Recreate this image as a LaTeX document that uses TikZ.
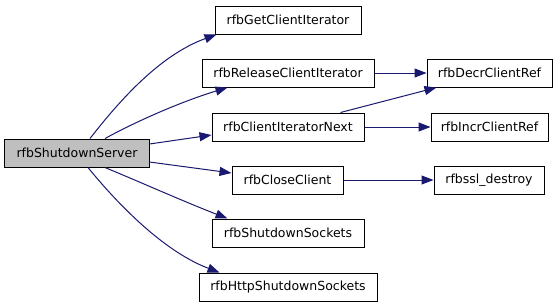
\documentclass[tikz,border=0pt]{standalone}
\usepackage{fontspec}
\setmainfont{DejaVu Sans}
\usetikzlibrary{arrows.meta,calc}
\definecolor{edgeblue}{HTML}{191970}
\definecolor{rootgray}{HTML}{BFBFBF}
\tikzset{
  fn/.style={draw=black, line width=1bp, fill=white, inner sep=0pt,
    minimum height=28bp, font=\fontsize{12.5bp}{14bp}\selectfont},
  rootfn/.style={fn, fill=rootgray},
  call/.style={draw=edgeblue, line width=1bp,
    -{Triangle[length=12bp,width=9bp]}, color=edgeblue},
}
\begin{document}
\begin{tikzpicture}[x=1bp,y=-1bp]
  \useasboundingbox (0,0) rectangle (557,307);

  % functions
  \node[rootfn, minimum width=144bp] (server)  at (77,153)   {rfbShutdownServer};
  \node[fn, minimum width=146bp] (get)     at (288,20)    {rfbGetClientIterator};
  \node[fn, minimum width=172bp] (release) at (288,73)    {rfbReleaseClientIterator};
  \node[fn, minimum width=152bp] (next)    at (288,127)   {rfbClientIteratorNext};
  \node[fn, minimum width=111bp] (close)   at (287.5,180) {rfbCloseClient};
  \node[fn, minimum width=152bp] (sockets) at (288,233)   {rfbShutdownSockets};
  \node[fn, minimum width=178bp] (http)    at (288,287)   {rfbHttpShutdownSockets};
  \node[fn, minimum width=125bp] (decr)    at (489.5,73)  {rfbDecrClientRef};
  \node[fn, minimum width=117bp] (incr)    at (489.5,127) {rfbIncrClientRef};
  \node[fn, minimum width=110bp] (ssl)     at (489,180)   {rfbssl\_destroy};

  % calls from rfbShutdownServer
  \draw[call] ($(server.north)+(13,0)$) .. controls (120,100) and (160,55) .. ($(get.south west)+(2,0)$);
  \draw[call] ($(server.north)+(28,0)$) .. controls (135,122) and (180,102) .. ($(release.south west)+(26,0)$);
  \draw[call] ($(server.east)+(0,-9)$) -- ($(next.west)+(0,8)$);
  \draw[call] ($(server.east)+(0,9)$) -- ($(close.west)+(0,-7)$);
  \draw[call] ($(server.south)+(28,0)$) .. controls (140,182) and (185,202) .. ($(sockets.north west)+(16,0)$);
  \draw[call] ($(server.south)+(11,0)$) .. controls (112,197) and (160,250) .. ($(http.north west)+(21,0)$);

  % further calls
  \draw[call] (release.east) -- (decr.west);
  \draw[call] ($(next.north east)+(-24,0)$) -- ($(decr.south west)+(10,0)$);
  \draw[call] (next.east) -- (incr.west);
  \draw[call] (close.east) -- (ssl.west);
\end{tikzpicture}
\end{document}
